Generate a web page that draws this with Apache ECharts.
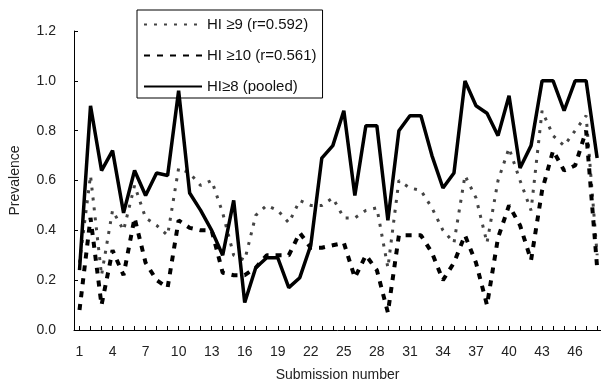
<!DOCTYPE html>
<html>
<head>
<meta charset="utf-8">
<script src="https://cdn.jsdelivr.net/npm/echarts@6/dist/echarts.min.js"></script>
<style>
  html, body { margin: 0; padding: 0; background: #fff; }
  #chart { width: 601px; height: 387px; }
</style>
</head>
<body>
<div id="chart"></div>
<script>
// submission numbers 1..48
var submissions = [1,2,3,4,5,6,7,8,9,10,11,12,13,14,15,16,17,18,19,20,21,22,23,24,
                   25,26,27,28,29,30,31,32,33,34,35,36,37,38,39,40,41,42,43,44,45,46,47,48];
var xTickLabels = [1,4,7,10,13,16,19,22,25,28,31,34,37,40,43,46];

// HI >= 9
var hi9 = [0.27,0.62,0.22,0.48,0.40,0.58,0.45,0.42,0.38,0.65,0.63,0.58,0.60,0.47,0.30,0.28,
           0.46,0.50,0.48,0.43,0.52,0.50,0.50,0.53,0.45,0.45,0.48,0.49,0.25,0.60,0.57,0.56,
           0.49,0.40,0.35,0.62,0.53,0.35,0.60,0.73,0.60,0.48,0.88,0.78,0.74,0.80,0.86,0.30];
// HI >= 10
var hi10 = [0.08,0.45,0.10,0.32,0.22,0.45,0.27,0.20,0.17,0.44,0.41,0.40,0.40,0.23,0.22,0.22,
            0.25,0.30,0.30,0.30,0.39,0.33,0.33,0.34,0.35,0.21,0.30,0.24,0.07,0.38,0.38,0.38,
            0.31,0.20,0.27,0.38,0.27,0.10,0.37,0.50,0.42,0.28,0.56,0.72,0.64,0.66,0.80,0.25];
// HI >= 8 pooled
var hi8 = [0.24,0.90,0.64,0.72,0.47,0.64,0.54,0.63,0.62,0.96,0.55,0.48,0.40,0.30,0.52,0.11,
           0.25,0.29,0.29,0.17,0.21,0.34,0.69,0.74,0.88,0.54,0.82,0.82,0.44,0.80,0.86,0.86,
           0.70,0.57,0.63,1.00,0.90,0.87,0.78,0.94,0.65,0.74,1.00,1.00,0.88,1.00,1.00,0.69];

function pairs(vals) {
  return vals.map(function (v, i) { return [submissions[i], v]; });
}

var chart = echarts.init(document.getElementById('chart'));
var font = 'Liberation Sans, Arial, sans-serif';

chart.setOption({
  animation: false,
  textStyle: { fontFamily: font },
  grid: { left: 71, right: 0, top: 31, bottom: 54 },
  legend: {
    orient: 'vertical',
    left: 137,
    top: 10,
    padding: [7, 6, 4, 6],
    itemWidth: 58,
    itemHeight: 15,
    itemGap: 16,
    itemStyle: { opacity: 0 },
    borderColor: '#000',
    borderWidth: 1,
    textStyle: { fontSize: 15, color: '#111', fontFamily: font },
    data: ['HI ≥9 (r=0.592)', 'HI ≥10 (r=0.561)', 'HI≥8 (pooled)']
  },
  xAxis: {
    type: 'value',
    min: 0.5,
    max: 48.35,
    name: 'Submission number',
    nameLocation: 'middle',
    nameGap: 38,
    nameTextStyle: { fontSize: 14, color: '#222' },
    splitLine: { show: false },
    axisLine: { lineStyle: { color: '#000', width: 1 } },
    axisTick: { inside: true, length: 4, lineStyle: { color: '#000' }, customValues: submissions },
    axisLabel: { fontSize: 14, color: '#222', margin: 15, customValues: xTickLabels }
  },
  yAxis: {
    type: 'value',
    min: 0,
    max: 1.2,
    interval: 0.2,
    name: 'Prevalence',
    nameLocation: 'middle',
    nameGap: 52,
    nameTextStyle: { fontSize: 14, color: '#222' },
    splitLine: { show: false },
    axisLine: { show: true, lineStyle: { color: '#000', width: 1 } },
    axisTick: { show: true, inside: true, length: 4, lineStyle: { color: '#000' } },
    axisLabel: {
      fontSize: 14, color: '#222', margin: 18,
      formatter: function (v) { return v.toFixed(1); }
    }
  },
  series: [
    {
      name: 'HI ≥9 (r=0.592)',
      type: 'line',
      symbol: 'none',
      data: pairs(hi9),
      lineStyle: { color: '#444', width: 3, type: [3, 7] },
      itemStyle: { color: '#444' }
    },
    {
      name: 'HI ≥10 (r=0.561)',
      type: 'line',
      symbol: 'none',
      data: pairs(hi10),
      lineStyle: { color: '#000', width: 4, type: [6, 7] },
      itemStyle: { color: '#000' }
    },
    {
      name: 'HI≥8 (pooled)',
      type: 'line',
      symbol: 'none',
      data: pairs(hi8),
      lineStyle: { color: '#000', width: 3.5 },
      itemStyle: { color: '#000' }
    }
  ]
});
</script>
</body>
</html>
